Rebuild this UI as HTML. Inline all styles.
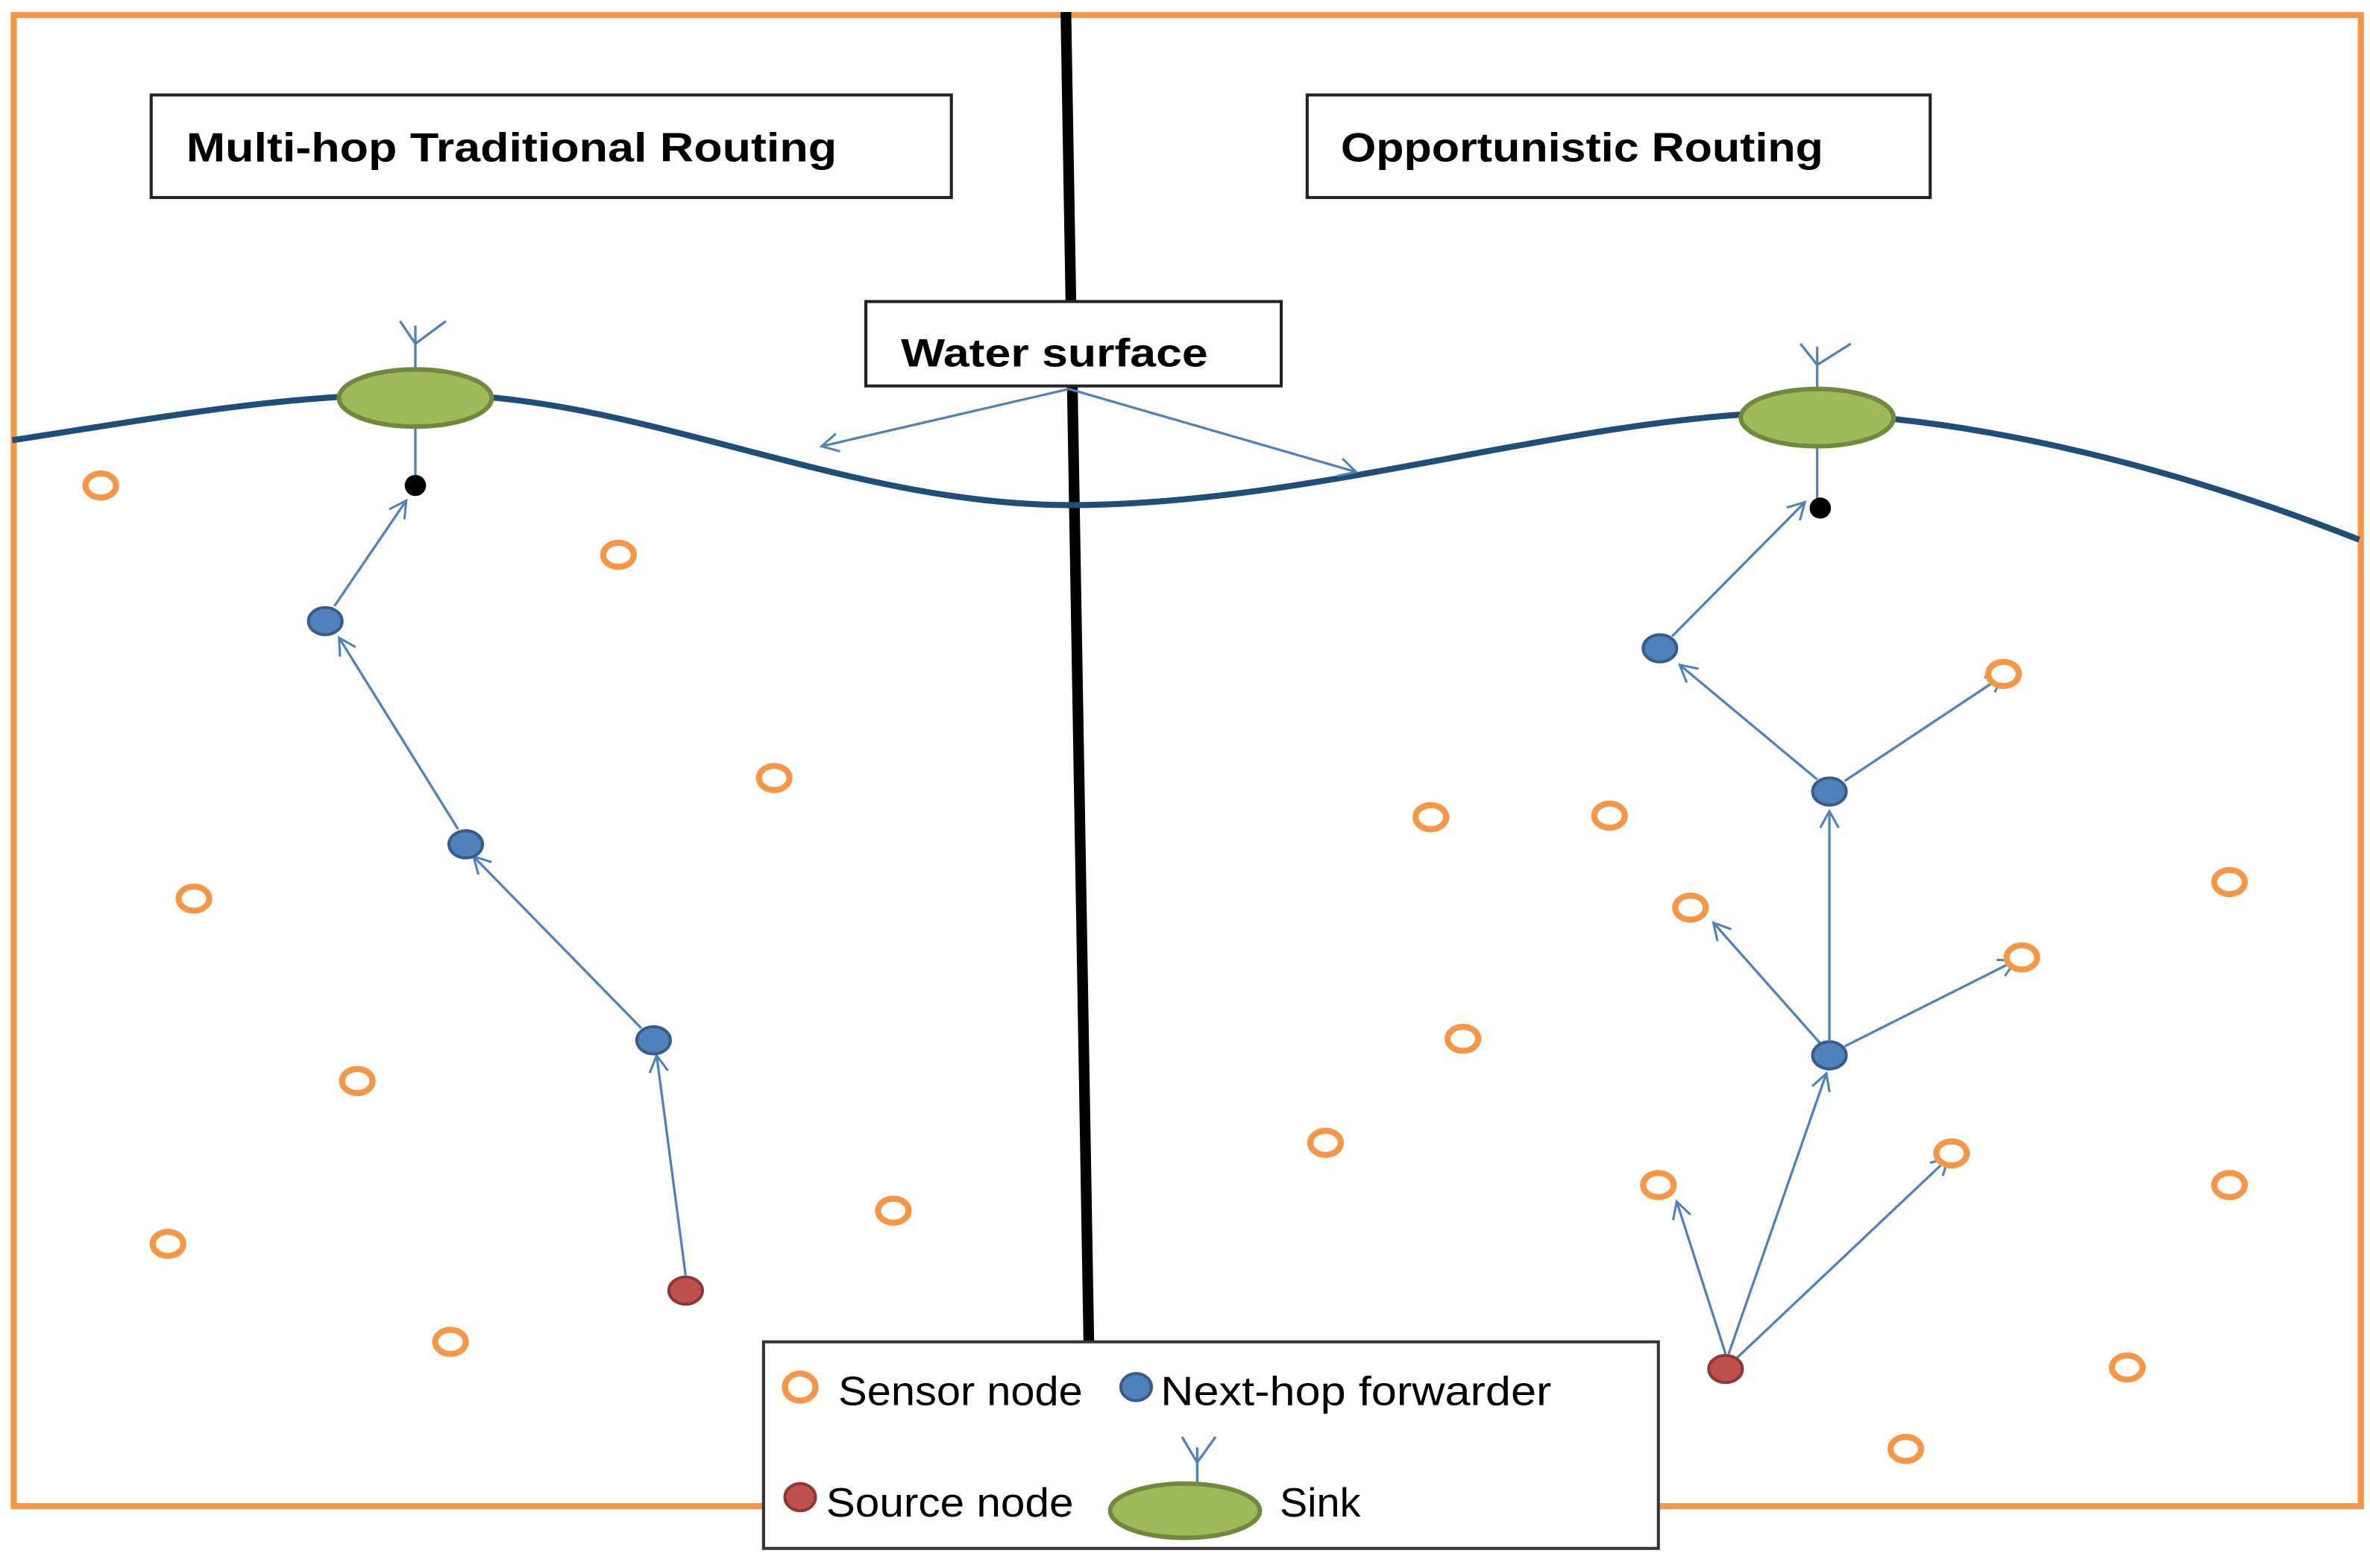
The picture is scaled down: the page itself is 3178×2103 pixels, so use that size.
<!DOCTYPE html>
<html><head><meta charset="utf-8"><style>
html,body{margin:0;padding:0;background:#fff;}
svg{display:block;}
text{font-family:"Liberation Sans",sans-serif;fill:#000;}
</style></head><body>
<svg width="3178" height="2103" viewBox="0 0 1552 1040" preserveAspectRatio="none" xmlns="http://www.w3.org/2000/svg">
<defs>
<marker id="a" markerWidth="14" markerHeight="14" refX="12" refY="7" orient="auto" markerUnits="userSpaceOnUse">
<path d="M1,1 L12,7 L1,13" fill="none" stroke="#4f81bd" stroke-width="1.5"/>
</marker>
</defs>
<rect x="0" y="0" width="1552" height="1040" fill="#fff"/>
<rect x="9" y="10" width="1537" height="989" fill="none" stroke="#f79646" stroke-width="4"/>
<line x1="698" y1="8" x2="713" y2="890" stroke="#000" stroke-width="7"/>
<!-- titles -->
<rect x="99" y="63" width="524" height="68" fill="#fff" stroke="#222" stroke-width="2"/>
<text x="122" y="107" font-size="27" font-weight="bold" textLength="426" lengthAdjust="spacingAndGlyphs">Multi-hop Traditional Routing</text>
<rect x="856" y="63" width="408" height="68" fill="#fff" stroke="#222" stroke-width="2"/>
<text x="878" y="107" font-size="27" font-weight="bold" textLength="316" lengthAdjust="spacingAndGlyphs">Opportunistic Routing</text>
<!-- wave -->
<path d="M8,292 C100,278 200,258 300,262 C430,268 560,335 700,335 C850,335 1000,285 1140,275 C1250,268 1400,300 1545,358" fill="none" stroke="#1f4e79" stroke-width="4"/>
<!-- water surface -->
<rect x="567" y="200" width="272" height="56" fill="#fff" stroke="#222" stroke-width="2"/>
<text x="590" y="243" font-size="26" font-weight="bold" textLength="201" lengthAdjust="spacingAndGlyphs">Water surface</text>
<g stroke="#4f81bd" stroke-width="1.6" fill="none">
<line x1="700" y1="258" x2="538" y2="296" marker-end="url(#a)"/>
<line x1="700" y1="258" x2="888" y2="313" marker-end="url(#a)"/>
<!-- antennas & sink links -->
<path d="M272,245 V216 M272,228 L262,213 M272,228 L292,213"/>
<line x1="272" y1="283" x2="272" y2="316"/>
<path d="M1190,258 V230 M1190,242 L1179,228 M1190,242 L1212,228"/>
<line x1="1190" y1="296" x2="1190" y2="331"/>
<path d="M784,985 V958 M784,970 L772,952 M784,970 L797,952"/>
<!-- left arrows -->
<line x1="449" y1="846" x2="430" y2="700" marker-end="url(#a)"/>
<line x1="420" y1="682" x2="310" y2="568" marker-end="url(#a)"/>
<line x1="300" y1="550" x2="222" y2="423" marker-end="url(#a)"/>
<line x1="219" y1="402" x2="266" y2="332" marker-end="url(#a)"/>
<!-- right arrows -->
<line x1="1130" y1="898" x2="1098" y2="797" marker-end="url(#a)"/>
<line x1="1132" y1="898" x2="1196" y2="712" marker-end="url(#a)"/>
<line x1="1136" y1="902" x2="1276" y2="768" marker-end="url(#a)"/>
<line x1="1198" y1="690" x2="1198" y2="538" marker-end="url(#a)"/>
<line x1="1192" y1="692" x2="1122" y2="612" marker-end="url(#a)"/>
<line x1="1208" y1="694" x2="1320" y2="637" marker-end="url(#a)"/>
<line x1="1190" y1="517" x2="1100" y2="441" marker-end="url(#a)"/>
<line x1="1208" y1="518" x2="1312" y2="448" marker-end="url(#a)"/>
<line x1="1095" y1="422" x2="1182" y2="333" marker-end="url(#a)"/>
</g>
<!-- sinks -->
<ellipse cx="272" cy="264" rx="50" ry="19" fill="#9bbb59" stroke="#71893f" stroke-width="3"/>
<ellipse cx="1190" cy="277" rx="50" ry="19" fill="#9bbb59" stroke="#71893f" stroke-width="3"/>
<circle cx="272" cy="322" r="7" fill="#000"/>
<circle cx="1192" cy="337" r="7" fill="#000"/>
<!-- blue nodes -->
<g fill="#4f81bd" stroke="#385d8a" stroke-width="2">
<ellipse cx="213" cy="412" rx="11" ry="9"/>
<ellipse cx="305" cy="560" rx="11" ry="9"/>
<ellipse cx="428" cy="690" rx="11" ry="9"/>
<ellipse cx="1087" cy="430" rx="11" ry="9"/>
<ellipse cx="1198" cy="525" rx="11" ry="9"/>
<ellipse cx="1198" cy="700" rx="11" ry="9"/>
<ellipse cx="744" cy="920" rx="10" ry="9"/>
</g>
<g fill="#c0504d" stroke="#8c3836" stroke-width="2">
<ellipse cx="449" cy="856" rx="11" ry="9"/>
<ellipse cx="1130" cy="908" rx="11" ry="9"/>
<ellipse cx="524" cy="993" rx="10" ry="9"/>
</g>
<!-- orange rings -->
<g fill="#fff" stroke="#f79646" stroke-width="4">
<ellipse cx="66" cy="322" rx="10" ry="8"/>
<ellipse cx="405" cy="368" rx="10" ry="8"/>
<ellipse cx="507" cy="516" rx="10" ry="8"/>
<ellipse cx="127" cy="596" rx="10" ry="8"/>
<ellipse cx="234" cy="717" rx="10" ry="8"/>
<ellipse cx="110" cy="825" rx="10" ry="8"/>
<ellipse cx="585" cy="803" rx="10" ry="8"/>
<ellipse cx="295" cy="890" rx="10" ry="8"/>
<ellipse cx="937" cy="542" rx="10" ry="8"/>
<ellipse cx="1054" cy="541" rx="10" ry="8"/>
<ellipse cx="1312" cy="447" rx="10" ry="8"/>
<ellipse cx="1460" cy="585" rx="10" ry="8"/>
<ellipse cx="1107" cy="602" rx="10" ry="8"/>
<ellipse cx="1324" cy="635" rx="10" ry="8"/>
<ellipse cx="958" cy="689" rx="10" ry="8"/>
<ellipse cx="868" cy="758" rx="10" ry="8"/>
<ellipse cx="1086" cy="786" rx="10" ry="8"/>
<ellipse cx="1278" cy="765" rx="10" ry="8"/>
<ellipse cx="1460" cy="786" rx="10" ry="8"/>
<ellipse cx="1393" cy="907" rx="10" ry="8"/>
<ellipse cx="1248" cy="961" rx="10" ry="8"/>
</g>
<!-- legend -->
<rect x="500" y="890" width="586" height="137" fill="#fff" stroke="#333" stroke-width="2"/>
<g stroke="#4f81bd" stroke-width="1.6" fill="none">
<path d="M784,985 V960 M784,970 L774,953 M784,970 L796,953"/>
</g>
<ellipse cx="524" cy="920" rx="10" ry="9" fill="#fff" stroke="#f79646" stroke-width="4"/>
<ellipse cx="744" cy="920" rx="10" ry="9" fill="#4f81bd" stroke="#385d8a" stroke-width="2"/>
<ellipse cx="524" cy="993" rx="10" ry="9" fill="#c0504d" stroke="#8c3836" stroke-width="2"/>
<ellipse cx="776" cy="1002" rx="49" ry="18" fill="#9bbb59" stroke="#71893f" stroke-width="3"/>
<text x="549" y="932" font-size="27" textLength="160" lengthAdjust="spacingAndGlyphs">Sensor node</text>
<text x="760" y="932" font-size="27" textLength="256" lengthAdjust="spacingAndGlyphs">Next-hop forwarder</text>
<text x="541" y="1006" font-size="27" textLength="162" lengthAdjust="spacingAndGlyphs">Source node</text>
<text x="838" y="1006" font-size="27" textLength="53" lengthAdjust="spacingAndGlyphs">Sink</text>
</svg>
</body></html>
